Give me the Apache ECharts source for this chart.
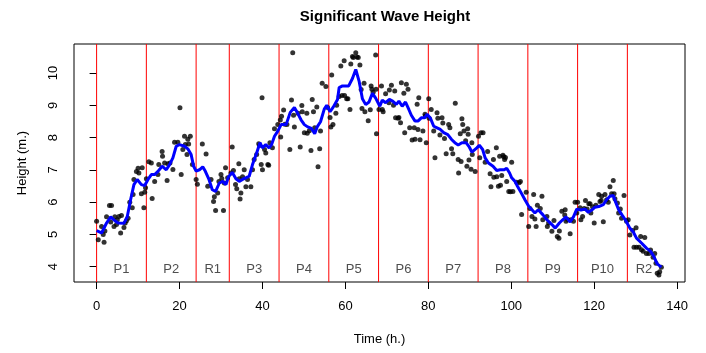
<!DOCTYPE html>
<html>
<head>
<meta charset="utf-8">
<script src="https://cdn.jsdelivr.net/npm/echarts@6/dist/echarts.min.js"></script>
<style>
  html, body { margin: 0; padding: 0; background: #fff; }
  #chart { width: 706px; height: 353px; }
</style>
</head>
<body>
<div id="chart"></div>
<script>
// observed wave heights (time in hours, height in metres)
const waveTime = [
  0.0, 0.4, 1.2, 1.6, 1.8, 2.0, 2.4, 3.1, 3.4, 3.6, 4.2, 4.4, 4.8, 5.0, 5.4, 5.8, 6.0, 6.6, 6.9, 7.2,
  7.6, 8.0, 8.6, 8.8, 9.0, 9.6, 10.0, 10.2, 10.8, 11.0, 11.4, 11.6, 11.8, 12.0, 12.6, 13.2, 13.4, 14.0, 14.8, 15.0,
  15.8, 15.9, 16.4, 17.0, 17.2, 17.7, 18.4, 18.8, 19.6, 20.1, 20.4, 20.8, 21.2, 21.4, 21.8, 22.0, 22.2, 22.6, 23.1, 24.0,
  24.3, 25.5, 26.4, 26.8, 27.6, 28.2, 28.4, 28.7, 29.2, 29.5, 30.0, 30.2, 30.6, 30.8, 31.1, 31.6, 32.4, 32.7, 33.0, 33.5,
  33.8, 34.3, 34.4, 34.6, 34.8, 35.2, 35.6, 36.0, 36.4, 37.2, 37.6, 38.0, 38.6, 39.1, 39.3, 39.7, 39.9, 40.0, 40.5, 40.8,
  41.3, 41.5, 41.8, 42.4, 42.9, 43.7, 44.3, 44.4, 44.6, 45.1, 45.4, 45.9, 46.6, 47.0, 47.3, 47.5, 47.7, 48.6, 49.1, 49.5,
  49.6, 50.1, 50.7, 50.8, 51.3, 51.7, 52.0, 52.3, 52.6, 53.1, 53.4, 53.8, 54.0, 54.4, 55.3, 55.7, 56.3, 56.5, 56.7, 57.0,
  57.7, 57.9, 58.5, 58.9, 59.2, 59.7, 59.8, 60.3, 60.6, 61.1, 61.3, 61.7, 61.9, 62.5, 62.8, 63.1, 63.5, 63.8, 64.0, 64.5,
  64.7, 65.5, 66.0, 66.2, 66.4, 66.7, 67.3, 67.4, 67.5, 68.1, 68.7, 68.9, 69.1, 69.7, 70.5, 70.6, 71.1, 71.6, 71.9, 72.1,
  72.7, 72.9, 73.3, 73.5, 74.1, 74.3, 74.7, 75.1, 75.5, 76.1, 76.6, 76.8, 77.3, 77.5, 77.7, 78.0, 78.7, 79.2, 79.3, 79.5,
  80.1, 80.2, 80.7, 81.3, 81.6, 82.1, 82.3, 82.8, 83.3, 83.5, 83.9, 84.3, 84.9, 85.2, 85.6, 85.9, 86.5, 87.2, 87.3, 87.7,
  87.9, 88.1, 88.3, 88.6, 89.0, 89.3, 89.5, 89.6, 89.8, 90.3, 90.5, 90.6, 91.3, 92.1, 92.4, 92.7, 93.2, 93.7, 94.3, 94.9,
  95.1, 95.7, 95.8, 96.4, 96.5, 96.9, 97.2, 97.4, 97.7, 98.0, 98.2, 98.4, 98.6, 98.9, 99.4, 99.8, 100.1, 100.4, 101.3, 101.9,
  102.2, 102.5, 103.6, 104.2, 104.5, 105.0, 105.4, 105.7, 106.0, 106.3, 107.0, 107.4, 107.6, 108.6, 108.7, 109.0, 109.8, 110.3, 111.1, 111.5,
  111.6, 112.2, 112.9, 113.0, 113.2, 113.6, 114.2, 114.4, 115.0, 115.4, 115.8, 116.0, 116.6, 116.8, 117.2, 117.6, 117.9, 118.3, 118.7, 119.0,
  119.2, 119.6, 120.0, 120.4, 121.1, 121.4, 121.7, 121.8, 122.2, 122.6, 123.0, 123.4, 123.8, 124.2, 124.6, 124.8, 125.0, 125.6, 125.9, 126.3,
  126.6, 127.2, 127.8, 128.2, 128.6, 129.3, 129.6, 130.1, 130.2, 130.8, 131.2, 131.4, 131.8, 132.2, 132.6, 133.2, 133.6, 134.2, 134.6, 134.9,
  135.2, 135.6, 135.8, 136.2
];
const waveHeight = [
  5.40, 4.83, 5.24, 4.99, 4.75, 5.10, 5.54, 5.89, 5.38, 5.89, 5.24, 5.54, 5.30, 5.45, 5.55, 5.04, 5.58, 5.21, 5.35, 5.42,
  5.50, 5.99, 5.82, 6.23, 6.70, 6.95, 7.05, 6.90, 6.26, 7.06, 5.82, 6.30, 6.44, 6.72, 7.25, 7.21, 6.11, 6.64, 6.85, 7.16,
  7.57, 7.42, 7.21, 6.67, 7.19, 7.21, 7.01, 7.85, 7.85, 8.92, 6.85, 7.63, 8.04, 7.78, 7.47, 7.95, 7.80, 8.04, 7.16, 6.70,
  6.55, 7.80, 7.49, 6.49, 6.70, 6.02, 6.16, 5.74, 6.28, 6.64, 6.85, 6.73, 5.74, 6.59, 7.06, 6.75, 6.90, 7.71, 6.98, 6.54,
  6.41, 7.19, 6.72, 6.09, 6.28, 6.78, 7.00, 6.47, 6.70, 6.47, 7.00, 7.32, 7.47, 7.81, 7.75, 7.16, 9.23, 7.00, 7.63, 7.52,
  7.16, 7.14, 7.84, 7.68, 8.27, 8.40, 8.54, 8.02, 8.66, 8.85, 8.41, 8.40, 7.63, 9.16, 10.63, 8.69, 8.33, 8.75, 7.71, 8.99,
  8.80, 8.15, 8.75, 8.13, 8.21, 7.60, 9.18, 8.80, 8.30, 8.95, 7.09, 7.65, 8.20, 9.68, 9.58, 8.93, 8.62, 8.33, 9.94, 8.40,
  8.75, 9.00, 9.27, 10.22, 9.30, 10.38, 9.30, 9.20, 9.20, 8.87, 10.28, 10.51, 10.48, 10.63, 10.50, 10.48, 10.25, 9.49, 8.90, 9.68,
  8.80, 8.52, 8.86, 9.60, 9.50, 9.40, 10.56, 9.50, 8.12, 8.87, 9.60, 8.87, 8.80, 9.36, 9.08, 9.47, 9.62, 9.00, 9.44, 8.61,
  8.60, 8.62, 8.46, 9.70, 9.37, 8.15, 9.65, 9.50, 8.30, 7.92, 8.30, 7.95, 9.03, 8.25, 9.23, 7.93, 8.20, 8.72, 8.67, 7.84,
  9.20, 8.60, 8.87, 8.20, 7.37, 8.77, 8.60, 8.08, 8.61, 8.45, 7.97, 7.50, 8.40, 8.30, 7.65, 7.50, 9.06, 7.32, 6.90, 8.12,
  7.26, 8.58, 8.40, 8.20, 7.90, 7.11, 8.27, 8.10, 7.30, 7.02, 7.84, 7.47, 6.95, 8.04, 7.37, 8.15, 8.15, 7.23, 7.57, 6.88,
  6.47, 7.32, 6.77, 7.68, 6.78, 6.49, 7.42, 6.52, 6.82, 7.45, 7.40, 7.32, 7.38, 6.64, 6.33, 6.32, 7.23, 6.33, 6.61, 6.60,
  6.64, 5.61, 6.30, 5.24, 5.80, 5.55, 6.23, 5.47, 5.24, 5.90, 5.80, 6.18, 5.45, 5.55, 5.24, 5.35, 5.09, 5.43, 4.93, 4.88,
  5.10, 5.71, 5.60, 5.76, 5.40, 5.46, 5.02, 5.45, 5.40, 5.99, 5.66, 5.99, 5.82, 5.45, 5.55, 5.80, 6.05, 5.78, 5.95, 5.95,
  5.66, 5.85, 5.35, 5.90, 6.23, 6.02, 6.05, 6.18, 5.39, 6.23, 6.07, 5.99, 6.47, 6.26, 6.67, 6.26, 6.10, 5.97, 5.66, 5.78,
  5.50, 6.20, 5.40, 5.45, 4.98, 5.12, 4.60, 5.20, 4.60, 4.60, 4.93, 4.52, 4.47, 4.90, 4.40, 4.40, 4.51, 4.29, 4.40, 4.10,
  3.79, 3.74, 3.84, 3.98
];

// smoothed curve (blue)
const smoothTime = [
  0.0, 1.2, 2.4, 3.4, 4.4, 5.2, 6.6, 7.4, 8.2, 9.0, 9.8, 10.8, 11.6, 12.4, 13.2, 14.0, 14.8, 15.8, 16.8, 17.6,
  18.4, 19.2, 20.0, 21.2, 22.0, 22.8, 23.4, 24.0, 24.8, 25.6, 26.2, 27.1, 27.9, 28.7, 29.6, 30.4, 31.2, 31.8, 32.7, 33.6,
  34.4, 35.2, 36.0, 36.8, 37.6, 38.6, 39.4, 40.0, 40.8, 41.6, 42.2, 42.9, 43.7, 44.5, 45.7, 46.7, 47.7, 48.5, 49.3, 50.1,
  50.9, 51.8, 52.6, 53.2, 54.0, 54.9, 55.5, 56.3, 57.1, 58.1, 58.5, 59.3, 60.8, 61.7, 62.5, 63.3, 64.1, 64.9, 65.7, 66.5,
  67.3, 68.3, 68.9, 69.7, 70.6, 71.4, 72.3, 72.9, 73.7, 74.5, 75.3, 75.9, 76.8, 77.5, 78.3, 79.1, 79.7, 80.5, 81.3, 82.1,
  82.9, 83.7, 84.7, 85.6, 86.4, 87.2, 88.1, 89.1, 89.9, 90.5, 91.7, 92.3, 93.1, 93.7, 94.5, 95.6, 96.5, 97.3, 98.3, 98.9,
  99.6, 100.1, 100.9, 101.5, 102.5, 103.3, 104.2, 105.0, 105.7, 106.5, 107.6, 108.6, 109.8, 110.6, 111.6, 112.4, 113.2, 114.2, 115.0, 115.8,
  116.8, 117.8, 118.6, 119.4, 120.2, 121.1, 122.2, 123.0, 123.8, 124.2, 124.6, 125.1, 125.9, 126.7, 127.5, 128.6, 129.4, 130.2, 131.4, 132.6,
  133.6, 134.4, 135.2, 136.2
];
const smoothHeight = [
  5.11, 5.04, 5.35, 5.54, 5.42, 5.35, 5.34, 5.55, 6.07, 6.54, 6.70, 6.54, 6.51, 6.70, 6.85, 6.85, 6.95, 7.11, 7.00, 7.16,
  7.37, 7.73, 7.78, 7.73, 7.65, 7.47, 7.11, 6.96, 7.00, 7.09, 6.96, 6.70, 6.38, 6.33, 6.59, 6.64, 6.54, 6.78, 6.92, 6.72,
  6.64, 6.70, 6.75, 6.80, 7.16, 7.52, 7.84, 7.68, 7.78, 7.68, 7.78, 8.04, 8.20, 8.40, 8.40, 8.78, 8.93, 8.75, 8.55, 8.40,
  8.33, 8.28, 8.12, 8.33, 8.49, 8.88, 9.00, 8.80, 8.95, 9.18, 9.55, 9.60, 9.60, 9.83, 10.11, 9.75, 9.20, 9.02, 9.10, 9.37,
  9.22, 8.97, 9.16, 9.08, 9.18, 9.13, 9.03, 9.13, 8.97, 9.10, 8.87, 8.69, 8.51, 8.51, 8.61, 8.61, 8.72, 8.60, 8.35, 8.30,
  8.25, 8.15, 8.09, 7.94, 7.84, 7.77, 7.84, 7.84, 7.70, 7.55, 7.68, 7.76, 7.63, 7.37, 7.21, 7.11, 6.98, 7.00, 7.00, 7.05,
  6.90, 6.75, 6.64, 6.49, 6.26, 6.07, 5.87, 5.76, 5.66, 5.76, 5.61, 5.45, 5.30, 5.19, 5.35, 5.45, 5.54, 5.38, 5.54, 5.78,
  5.75, 5.78, 5.68, 5.75, 5.84, 5.86, 5.92, 6.07, 6.18, 6.23, 6.20, 6.02, 5.76, 5.60, 5.45, 5.19, 5.08, 4.88, 4.73, 4.57,
  4.47, 4.31, 4.08, 3.98
];

// sampling periods
const periodBreaks = [0, 12, 24, 32, 44, 56, 68, 80, 92, 104, 116, 128];
const periodNames = ['P1', 'P2', 'R1', 'P3', 'P4', 'P5', 'P6', 'P7', 'P8', 'P9', 'P10', 'R2'];
const periodMid = [6, 18, 28, 38, 50, 62, 74, 86, 98, 110, 122, 132];
const periodLabelY = 3.92;

const xTicks = [0, 20, 40, 60, 80, 100, 120, 140];
const yTicks = [4, 5, 6, 7, 8, 9, 10];
const yMin = 3.52, yMax = 10.9;

const font = 'Liberation Sans, Arial, sans-serif';

const chart = echarts.init(document.getElementById('chart'));

// one vertical red line per period boundary
const breakSeries = periodBreaks.map(b => ({
  type: 'line',
  z: 1,
  silent: true,
  showSymbol: false,
  animation: false,
  lineStyle: { color: '#ff0000', width: 1 },
  data: [[b, yMin], [b, yMax]]
}));

const option = {
  animation: false,
  backgroundColor: '#fff',
  title: {
    text: 'Significant Wave Height',
    left: 380,
    top: 4,
    textAlign: 'center',
    textStyle: { fontFamily: font, fontSize: 15, fontWeight: 'bold', color: '#000' }
  },
  grid: {
    left: 74, right: 21, top: 44, bottom: 71,
    show: true, borderColor: '#000', borderWidth: 1, backgroundColor: '#fff'
  },
  xAxis: {
    type: 'value',
    min: -5.45,
    max: 141.9,
    name: 'Time (h.)',
    nameLocation: 'middle',
    nameGap: 51,
    nameTextStyle: { fontFamily: font, fontSize: 13, color: '#000' },
    axisLine: { show: false },
    splitLine: { show: false },
    axisTick: { show: true, length: 7, customValues: xTicks, lineStyle: { color: '#000' } },
    axisLabel: { customValues: xTicks, margin: 18, fontFamily: font, fontSize: 13, color: '#000' }
  },
  yAxis: {
    type: 'value',
    min: yMin,
    max: yMax,
    name: 'Height (m.)',
    nameLocation: 'middle',
    nameGap: 45,
    nameTextStyle: { fontFamily: font, fontSize: 13, color: '#000' },
    axisLine: { show: false },
    splitLine: { show: false },
    axisTick: { show: true, length: 7, customValues: yTicks, lineStyle: { color: '#000' } },
    axisLabel: { customValues: yTicks, rotate: 90, margin: 14, fontFamily: font, fontSize: 13, color: '#000' }
  },
  series: breakSeries.concat([
    {
      type: 'scatter',
      z: 2,
      symbolSize: 5,
      itemStyle: { color: '#000' },
      data: waveTime.map((t, i) => [t, waveHeight[i]])
    },
    {
      type: 'line',
      z: 3,
      showSymbol: false,
      lineStyle: { color: '#0000ff', width: 3 },
      data: smoothTime.map((t, i) => [t, smoothHeight[i]])
    },
    {
      type: 'scatter',
      z: 4,
      symbolSize: 0,
      label: {
        show: true,
        position: 'inside',
        formatter: p => p.value[2],
        fontFamily: font,
        fontSize: 13,
        color: '#222'
      },
      data: periodMid.map((m, i) => [m, periodLabelY, periodNames[i]])
    }
  ])
};

chart.setOption(option);
</script>
</body>
</html>
